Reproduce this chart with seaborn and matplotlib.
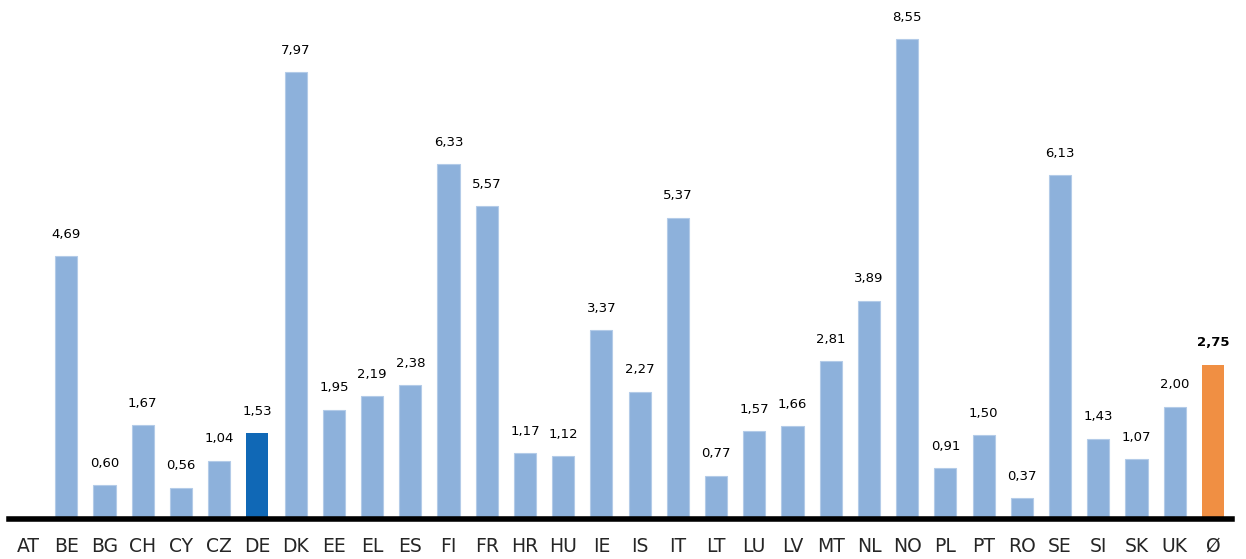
import pandas as pd
import seaborn as sns
import matplotlib.pyplot as plt
import numpy as np

countries = ['AT', 'BE', 'BG', 'CH', 'CY', 'CZ', 'DE', 'DK', 'EE', 'EL', 'ES', 'FI',
             'FR', 'HR', 'HU', 'IE', 'IS', 'IT', 'LT', 'LU', 'LV', 'MT', 'NL', 'NO',
             'PL', 'PT', 'RO', 'SE', 'SI', 'SK', 'UK', 'Ø']
values = [np.nan, 4.69, 0.60, 1.67, 0.56, 1.04, 1.53, 7.97, 1.95, 2.19, 2.38, 6.33,
          5.57, 1.17, 1.12, 3.37, 2.27, 5.37, 0.77, 1.57, 1.66, 2.81, 3.89, 8.55,
          0.91, 1.50, 0.37, 6.13, 1.43, 1.07, 2.00, 2.75]

df = pd.DataFrame({'Land': countries, 'Wert': values})

light = '#8DB1DB'
palette = {c: light for c in countries}
palette['DE'] = '#1068B6'
palette['Ø'] = '#F08F43'

sns.set_style('white')
plt.rcParams['font.family'] = ['DejaVu Sans']

fig = plt.figure(figsize=(12.46, 5.59), dpi=100)
ax = fig.add_axes([0.0072, 0.0716, 0.9816, 0.9284])
sns.barplot(x='Land', y='Wert', hue='Land', data=df, palette=palette,
            width=0.58, legend=False, ax=ax, saturation=1, linewidth=0)

# light outline only on the plain blue bars
for p in ax.patches:
    if p.get_facecolor()[:3] == plt.matplotlib.colors.to_rgb(light):
        p.set_edgecolor('#B3CBE8')
        p.set_linewidth(0.8)

# value labels
for i, (c, v) in enumerate(zip(countries, values)):
    if np.isnan(v):
        continue
    txt = f'{v:.2f}'.replace('.', ',')
    bold = c == 'Ø'
    ax.annotate(txt, (i, v), xytext=(0, 11), textcoords='offset points',
                ha='center', va='bottom', fontsize=9.5,
                fontweight='bold' if bold else 'normal', color='black')

ax.set_xlim(-0.5, len(countries) - 0.5)
ax.set_ylim(0, 9.25)
ax.set_xlabel('')
ax.set_ylabel('')
ax.set_yticks([])
for s in ['top', 'right', 'left']:
    ax.spines[s].set_visible(False)
ax.spines['bottom'].set_linewidth(4)
ax.spines['bottom'].set_color('black')
ax.tick_params(axis='x', length=0, pad=13, labelsize=13.5)

fig.savefig('out.png', dpi=100)
